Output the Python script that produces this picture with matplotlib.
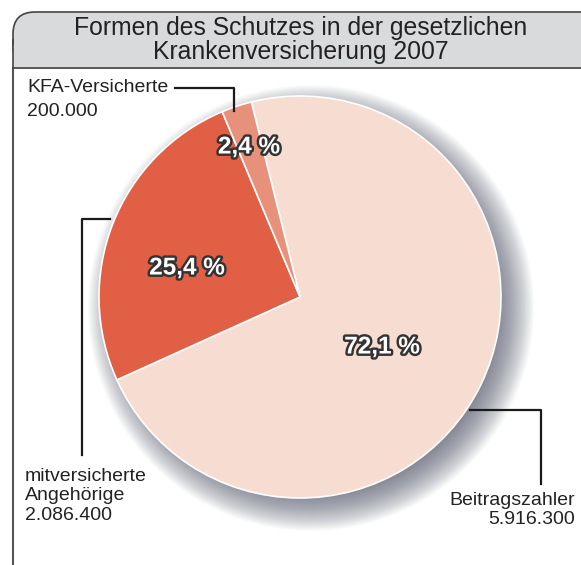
import numpy as np
import matplotlib.pyplot as plt
from matplotlib.patches import Circle, FancyBboxPatch, Rectangle
import matplotlib.patheffects as pe

plt.rcParams['font.family'] = ['Liberation Sans', 'DejaVu Sans']

# data
kategorien = ['Beitragszahler', 'mitversicherte\nAngehörige', 'KFA-Versicherte']
anzahl = [5916300, 2086400, 200000]
anzahl_txt = ['5.916.300', '2.086.400', '200.000']
prozent_txt = ['72,1 %', '25,4 %', '2,4 %']
farben = ['#f7ddd1', '#e05f45', '#e8917a']
titel = 'Formen des Schutzes in der gesetzlichen\nKrankenversicherung 2007'

W, H = 581, 565
fig = plt.figure(figsize=(W / 100, H / 100), dpi=100)
ax = fig.add_axes([0, 0, 1, 1])


def Y(py):
    # pixel row -> data y
    return H - py


cx, cy, r = 300, Y(297), 201

# soft shadow behind the pie
for i in range(40):
    ax.add_patch(Circle((cx + 11, cy - 11), r + 22 - i * 0.9,
                        color='#50566a', alpha=0.022, lw=0, zorder=1))

ax.pie(anzahl, colors=farben, startangle=104, counterclock=False,
       center=(cx, cy), radius=r, frame=True,
       wedgeprops=dict(edgecolor='white', linewidth=1.2, zorder=2))
ax.set_xlim(0, W)
ax.set_ylim(0, H)
ax.set_aspect('auto')
ax.axis('off')

# percent labels
pos_proz = [(382, 347), (187, 268), (249, 147)]
for (px, py), t in zip(pos_proz, prozent_txt):
    ax.text(px, Y(py), t, ha='center', va='center', fontsize=17.5,
            fontweight='bold', color='white', zorder=5,
            path_effects=[pe.withStroke(linewidth=3.5, foreground='#333333')])

# frame and header
ax.plot([13, 13], [Y(68), Y(570)], color='#555555', lw=1.5, zorder=3)
kopf = FancyBboxPatch((13, Y(68)), 620, 56,
                      boxstyle='round,pad=0,rounding_size=22',
                      facecolor='#d9dadb', edgecolor='#444444', lw=1.2, zorder=3)
ax.add_patch(kopf)
ax.add_patch(Rectangle((13, Y(68) - 1), 620, 24, facecolor='#d9dadb',
                       edgecolor='none', zorder=3))
ax.plot([13, 13], [Y(68), Y(40)], color='#444444', lw=1.2, zorder=4)
ax.plot([13, 600], [Y(68), Y(68)], color='#444444', lw=1.2, zorder=4)
ax.text(301, Y(40), titel, ha='center', va='center', fontsize=17.8,
        color='#222222', linespacing=1.0, zorder=5)

# leader lines
lc = dict(color='#1a1a1a', lw=1.6, zorder=4)
ax.plot([175, 234, 234], [Y(88), Y(88), Y(111)], **lc)
ax.plot([110, 82, 82], [Y(219), Y(219), Y(455)], **lc)
ax.plot([470, 541, 541], [Y(410), Y(410), Y(484)], **lc)

# category labels
fs = 14
ax.text(27, Y(88), kategorien[2], ha='left', va='center', fontsize=fs, color='#222222')
ax.text(27, Y(112), anzahl_txt[2], ha='left', va='center', fontsize=fs, color='#222222')
ax.text(25, Y(496), kategorien[1] + '\n' + anzahl_txt[1], ha='left', va='center',
        fontsize=fs, color='#222222', linespacing=1.23)
ax.text(575, Y(510), kategorien[0] + '\n' + anzahl_txt[0], ha='right', va='center',
        fontsize=fs, color='#222222', linespacing=1.23, multialignment='right')

fig.savefig('out.png', dpi=100)
